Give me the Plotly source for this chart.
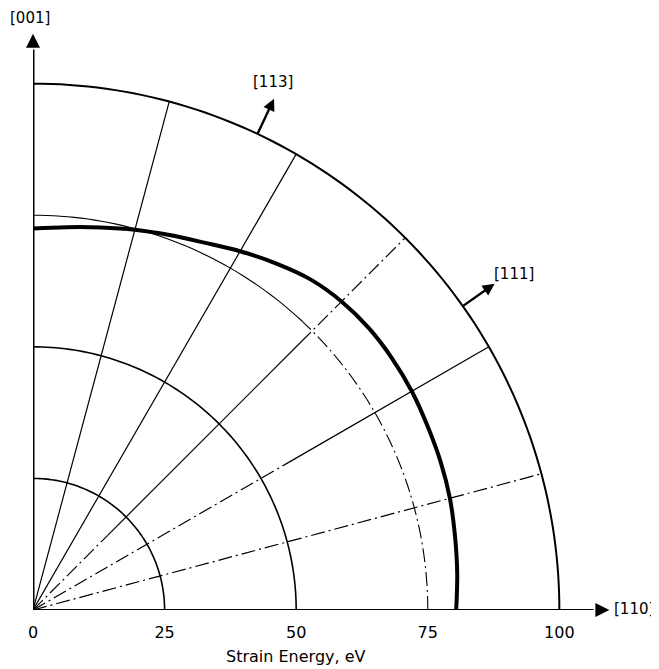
import plotly.graph_objects as go

# ---------------- data ----------------
direction_angles = [0, 5, 10, 15, 20, 25, 30, 35, 40, 45, 50, 55, 60, 65, 70, 75, 80, 85, 90]
strain_energy = [80.4, 80.9, 81.4, 82.0, 82.4, 82.7, 83.1, 83.3, 83.3, 82.9,
                 82.0, 80.4, 78.7, 77.0, 75.8, 74.8, 73.8, 73.0, 72.5]

tick_values = [0, 25, 50, 75, 100]
tick_labels = ["0", "25", "50", "75", "100"]
solid_circles = [25, 50]          # thin solid reference circles
outer_circle = 100
ref_circle = 75                   # partly dash-dot circle
ray_angles = [15, 30, 45, 60, 75]
axis_end = 109.5

# crystal directions marked with arrows (angle from [110], degrees)
dir_labels = ["[113]", "[111]"]
dir_angles = [64.76, 35.26]
dir_arrow_r = [100, 107.4]

arc = list(range(0, 91))

fig = go.Figure()

def seg(r, th, width, dash="solid", color="black", shape="linear"):
    fig.add_trace(go.Scatterpolar(r=r, theta=th, mode="lines",
                                  line=dict(color=color, width=width, dash=dash, shape=shape),
                                  hoverinfo="skip", showlegend=False, cliponaxis=False))

DD = "14px,4px,2px,4px"

# circles
for rc in solid_circles:
    seg([rc] * len(arc), arc, 1.6)
seg([outer_circle] * len(arc), arc, 2.0)
arc_solid = [a for a in arc if a >= 47]
arc_dd = [a for a in arc if a <= 47]
seg([ref_circle] * len(arc_solid), arc_solid, 1.1)
seg([ref_circle] * len(arc_dd), arc_dd, 1.1, DD)

# rays
ray_styles = {
    15: [(0, 100, DD)],
    30: [(0, 56, DD), (56, 100, "solid")],
    45: [(0, 20, DD), (20, 72, "solid"), (72, 100, DD)],
    60: [(0, 100, "solid")],
    75: [(0, 100, "solid")],
}
for a in ray_angles:
    for r0, r1, d in ray_styles[a]:
        seg([r0, r1], [a, a], 1.2, d)

# strain energy curve
seg(strain_energy, direction_angles, 4.0, shape="spline")

# axes with arrowheads
seg([0, axis_end - 3], [0, 0], 2.2)
seg([0, axis_end - 3], [90, 90], 3.0)
fig.add_trace(go.Scatterpolar(r=[axis_end, axis_end], theta=[0, 90], mode="markers",
                              marker=dict(symbol=["arrow-right", "arrow-up"], size=14, color="black"),
                              hoverinfo="skip", showlegend=False, cliponaxis=False))

# direction arrows
for lab, ang in zip(dir_labels, dir_angles):
    seg([dir_arrow_r[0], dir_arrow_r[1] - 2], [ang, ang], 2.4)
    fig.add_trace(go.Scatterpolar(r=[dir_arrow_r[1]], theta=[ang], mode="markers",
                                  marker=dict(symbol="arrow-up", size=12, color="black",
                                              angle=90 - ang),
                                  hoverinfo="skip", showlegend=False, cliponaxis=False))

# page offset (default body margin) of the figure inside the browser window
OFF = 8
W, H = 659 - OFF, 669 - OFF
L, T, B = 33 - OFF, 31.4 - OFF, 59
side = H - T - B
R = W - L - side

font = "DejaVu Sans"
ann_specs = [
    ("Strain Energy, eV", 296, 656, 16),
    ("[001]", 30, 18, 15),
    ("[110]", 634, 609, 15),
    ("[113]", 273, 82, 15),
    ("[111]", 514, 274, 15),
]
plot_w = W - L - R
plot_h = H - T - B
annotations = []
for text, sx, sy, fs in ann_specs:
    fx, fy = sx - OFF, sy - OFF
    annotations.append(dict(text=text, xref="paper", yref="paper",
                            x=(fx - L) / plot_w, y=(H - B - fy) / plot_h,
                            xanchor="center", yanchor="middle", showarrow=False,
                            font=dict(family=font, size=fs, color="black")))

fig.update_layout(
    width=W, height=H,
    margin=dict(l=L, r=R, t=T, b=B, pad=0),
    paper_bgcolor="white", plot_bgcolor="white",
    showlegend=False,
    polar=dict(
        sector=[0, 90],
        bgcolor="white",
        domain=dict(x=[0, 1], y=[0, 1]),
        radialaxis=dict(range=[0, 110], angle=0, showline=False, showgrid=False,
                        tickvals=tick_values, ticktext=tick_labels,
                        ticks="outside", ticklen=8, tickcolor="rgba(0,0,0,0)",
                        tickfont=dict(family=font, size=16, color="black")),
        angularaxis=dict(showline=False, showgrid=False, showticklabels=False, ticks=""),
    ),
    annotations=annotations,
)

fig.write_html("out.html")
